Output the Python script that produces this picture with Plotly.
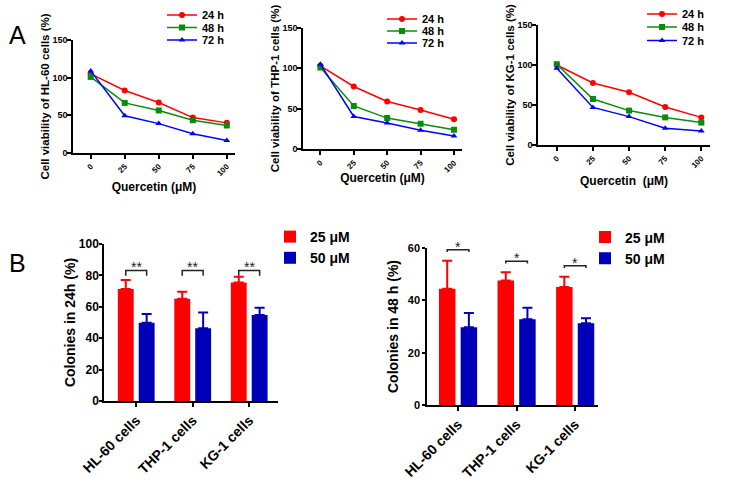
import plotly.graph_objects as go

# ---------------- data ----------------
conc = [0, 25, 50, 75, 100]
time_labels = ["24 h", "48 h", "72 h"]

hl60_24 = [105, 83, 67, 47, 40]
hl60_48 = [101, 66.5, 56.5, 43.5, 36.5]
hl60_72 = [109, 49.5, 39, 25.5, 16.5]

thp1_24 = [103, 77.5, 59, 48.5, 37]
thp1_48 = [101, 53.5, 38.5, 31.5, 24]
thp1_72 = [105, 40.5, 32.5, 23.5, 16.5]

kg1_24 = [100, 77.5, 66, 47.5, 34.5]
kg1_48 = [101, 57.5, 43, 34.5, 28]
kg1_72 = [96, 47, 35.5, 21, 17.5]

cell_lines = ["HL-60 cells", "THP-1 cells", "KG-1 cells"]
doses = ["25 μM", "50 μM"]

col24_25 = [71.3, 65.2, 75.4]
col24_25_err = [5.7, 4.4, 3.8]
col24_50 = [49.9, 46.3, 54.8]
col24_50_err = [5.5, 10.0, 4.6]

col48_25 = [44.4, 47.6, 45.1]
col48_25_err = [10.7, 3.1, 3.9]
col48_50 = [29.7, 32.8, 31.2]
col48_50_err = [5.5, 4.4, 2.0]

sig24 = ["**", "**", "**"]
sig48 = ["*", "*", "*"]

# ---------------- styles ----------------
FONT = "Liberation Sans, Arial, sans-serif"
RED = "#FF0000"
GREEN = "#0A8C0A"
BLUE = "#0000FF"
BAR_BLUE = "#0000B8"
line_colors = [RED, GREEN, BLUE]
line_symbols = ["circle", "square", "triangle-up"]
BARGAP = 0.26
BARGROUPGAP = 0.24

W, H = 732, 482


def px_x(a, b):
    return [a / W, b / W]


def px_y(top, bottom):
    return [1 - bottom / H, 1 - top / H]


fig = go.Figure()

line_panels = [
    ("Cell viability of HL-60 cells (%)", "Quercetin (μM)", [hl60_24, hl60_48, hl60_72]),
    ("Cell viability of THP-1 cells (%)", "Quercetin (μM)", [thp1_24, thp1_48, thp1_72]),
    ("Cell viability of KG-1 cells (%)", "Quercetin  (μM)", [kg1_24, kg1_48, kg1_72]),
]
line_dom_x = [px_x(73, 235), px_x(303, 462), px_x(538, 710)]
line_dom_y = [px_y(40, 153), px_y(27.7, 149.3), px_y(25, 145)]
xtitle_standoff = [6, 0, 8]
# legend entry anchor: left edge (px) and centre heights (px) of each entry
legend_left = [162, 382, 642]
legend_rows = [[15, 27.5, 40], [19, 31, 43], [14, 27, 40.5]]

layout = dict(
    width=W, height=H, margin=dict(l=0, r=0, t=0, b=0, autoexpand=False),
    paper_bgcolor="white", plot_bgcolor="white",
    font=dict(family=FONT, color="black"),
    barmode="group", bargap=BARGAP, bargroupgap=BARGROUPGAP,
    annotations=[], shapes=[],
)

axis_common = dict(showline=True, linecolor="black", linewidth=1.5, ticks="outside",
                   ticklen=4, tickwidth=1.5, tickcolor="black", showgrid=False,
                   zeroline=False, automargin=False)

legend_count = 0
for i, (ytitle, xtitle, series) in enumerate(line_panels):
    n = i + 1
    xa = "x" if n == 1 else f"x{n}"
    ya = "y" if n == 1 else f"y{n}"
    for j, vals in enumerate(series):
        legend_count += 1
        lg = "legend" if legend_count == 1 else f"legend{legend_count}"
        fig.add_trace(go.Scatter(
            x=conc, y=vals, mode="lines+markers", name=time_labels[j],
            line=dict(color=line_colors[j], width=1.5),
            marker=dict(color=line_colors[j], symbol=line_symbols[j], size=6),
            xaxis=xa, yaxis=ya, legend=lg, showlegend=True))
        layout[lg] = dict(x=legend_left[i] / W, y=1 - legend_rows[i][j] / H,
                          xanchor="left", yanchor="middle", bgcolor="rgba(0,0,0,0)",
                          font=dict(size=11, family=FONT, weight="bold"))
    layout[f"xaxis{'' if n == 1 else n}"] = dict(
        axis_common, domain=line_dom_x[i], anchor=ya, range=[-13, 106],
        tickvals=conc, tickangle=-45,
        tickfont=dict(size=8, family=FONT, weight="bold"),
        title=dict(text=xtitle, font=dict(size=12, family=FONT, weight="bold"),
                   standoff=xtitle_standoff[i]))
    layout[f"yaxis{'' if n == 1 else n}"] = dict(
        axis_common, domain=line_dom_y[i], anchor=xa, range=[0, 150], dtick=50,
        tickfont=dict(size=9, family=FONT, weight="bold"), ticklabelstandoff=-2,
        title=dict(text=ytitle, font=dict(size=11.5, family=FONT, weight="bold"), standoff=0))

bar_panels = [
    ("Colonies in 24h (%)", [col24_25, col24_50], [col24_25_err, col24_50_err], sig24, [0, 100], 3.5, "max"),
    ("Colonies in 48 h (%)", [col48_25, col48_50], [col48_25_err, col48_50_err], sig48, [0, 60], 0.85, "local"),
]
bar_dom_x = [px_x(104, 278), px_x(427, 598)]
bar_dom_y = [px_y(244, 401), px_y(248, 405)]
bar_xrange = [[-0.57, 2.51], [-0.53, 2.39]]
bar_ytick_size = [12, 11]
bar_ytick_standoff = [-2, 0]
bar_ytitle_standoff = [0, 6]
bar_legend_pos = [(270, 221), (585, 221.5)]
bar_colors = [RED, BAR_BLUE]
xi = list(range(len(cell_lines)))
half = (1 - BARGAP) / 4

for k, (ytitle, means, errs, sigs, yr, drop, mode) in enumerate(bar_panels):
    n = k + 4
    legend_count += 1
    xa, ya, lg = f"x{n}", f"y{n}", f"legend{legend_count}"
    for j in range(2):
        fig.add_trace(go.Bar(
            x=xi, y=means[j], name=doses[j], marker=dict(color=bar_colors[j], line=dict(width=0)),
            error_y=dict(type="data", array=errs[j], arrayminus=[0] * 3, symmetric=False,
                         color=bar_colors[j], thickness=2, width=5),
            xaxis=xa, yaxis=ya, legend=lg))
    layout[f"xaxis{n}"] = dict(
        axis_common, domain=bar_dom_x[k], anchor=ya, range=bar_xrange[k],
        tickvals=xi, ticktext=cell_lines, tickangle=-45,
        tickfont=dict(size=14, family=FONT, weight="bold"))
    layout[f"yaxis{n}"] = dict(
        axis_common, domain=bar_dom_y[k], anchor=xa, range=yr, dtick=20, ticklen=3,
        tickfont=dict(size=bar_ytick_size[k], family=FONT, weight="bold"),
        ticklabelstandoff=bar_ytick_standoff[k],
        title=dict(text=ytitle, font=dict(size=14, family=FONT, weight="bold"),
                   standoff=bar_ytitle_standoff[k]))
    lx, ly = bar_legend_pos[k]
    layout[lg] = dict(x=lx / W, y=1 - ly / H, xanchor="left", yanchor="top",
                      bgcolor="rgba(0,0,0,0)", font=dict(size=14, family=FONT, weight="bold"))
    tops = [max(means[0][i] + errs[0][i], means[1][i] + errs[1][i]) for i in xi]
    gmax = max(tops)
    span = yr[1] - yr[0]
    for i in xi:
        by = (gmax + 0.04 * span) if mode == "max" else (tops[i] + 0.07 * span)
        x0, x1 = i - half, i + half
        layout["shapes"].append(dict(
            type="path", xref=xa, yref=ya,
            path=f"M {x0},{by - drop} L {x0},{by} L {x1},{by} L {x1},{by - drop}",
            line=dict(color="#222222", width=1.5)))
        layout["annotations"].append(dict(
            x=i, y=by, xref=xa, yref=ya, text=sigs[i], showarrow=False,
            yanchor="bottom", yshift=-7, font=dict(size=14, family=FONT, color="#222222")))

for label, (lx, ly) in [("A", (17, 35)), ("B", (17, 263))]:
    layout["annotations"].append(dict(x=lx / W, y=1 - ly / H, xref="paper", yref="paper",
                                      text=label, showarrow=False, xanchor="center",
                                      yanchor="middle", font=dict(size=25, family=FONT)))

fig.update_layout(**layout)
fig.write_html("out.html", config={"displayModeBar": False},
               post_script="document.body.style.margin='0px';")
